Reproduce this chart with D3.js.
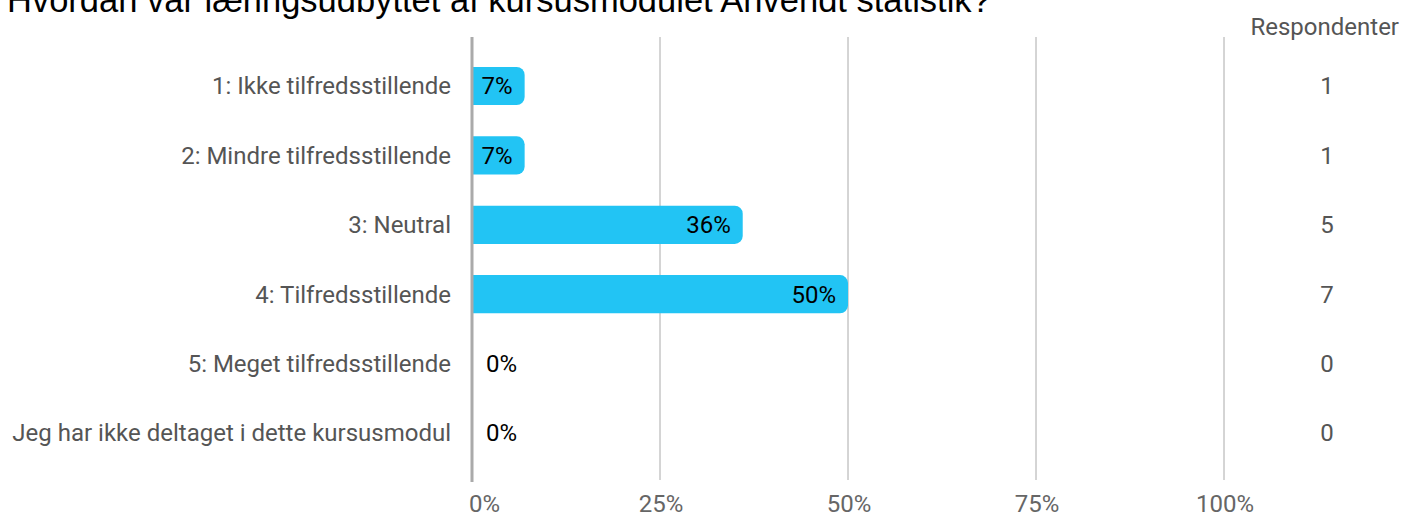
<!DOCTYPE html>
<html>
<head>
<meta charset="utf-8">
<script src="https://cdn.jsdelivr.net/npm/d3@7"></script>
<style>
  body { margin: 0; background: #fff; }
  svg { display: block; font-family: Roboto, sans-serif; }
</style>
</head>
<body>
<script>
var title = 'Hvordan var læringsudbyttet af kursusmodulet Anvendt statistik?'
var categories = [
  '1: Ikke tilfredsstillende',
  '2: Mindre tilfredsstillende',
  '3: Neutral',
  '4: Tilfredsstillende',
  '5: Meget tilfredsstillende',
  'Jeg har ikke deltaget i dette kursusmodul'
]
var respondents = [1, 1, 5, 7, 0, 0]
var percents = [7, 7, 36, 50, 0, 0]
var xTicks = [0, 25, 50, 75, 100]

var width = 1404, height = 515
var fs = '24px'

var x = d3.scaleLinear().domain([0, 100]).range([472, 1224])
var y = d3.scaleBand().domain(categories).range([51.3, 467.7])
  .paddingInner(0.45).paddingOuter(0.225)

var svg = d3.select('body').append('svg')
  .attr('width', width)
  .attr('height', height)

// title, cut off at the top like the source
svg.append('text')
  .attr('x', 7)
  .attr('y', 12)
  .style('font-family', '"Liberation Sans", Arial, sans-serif')
  .style('font-size', '34.5px')
  .attr('fill', '#000')
  .text(title)

// grid
svg.append('g').selectAll('line')
  .data(xTicks.slice(1))
  .enter().append('line')
  .attr('x1', d => x(d)).attr('x2', d => x(d))
  .attr('y1', 37).attr('y2', 480)
  .attr('stroke', '#aaa')
  .attr('stroke-width', 1)

// bars: square on the left, rounded on the right
var r = 8
svg.append('g').selectAll('path')
  .data(categories.filter((c, i) => percents[i] > 0))
  .enter().append('path')
  .attr('fill', '#22c4f4')
  .attr('d', function (c) {
    var i = categories.indexOf(c)
    var x0 = x(0), x1 = x(percents[i])
    var y0 = y(c), h = y.bandwidth()
    var p = d3.path()
    p.moveTo(x0, y0)
    p.lineTo(x1 - r, y0)
    p.arcTo(x1, y0, x1, y0 + r, r)
    p.lineTo(x1, y0 + h - r)
    p.arcTo(x1, y0 + h, x1 - r, y0 + h, r)
    p.lineTo(x0, y0 + h)
    p.closePath()
    return p.toString()
  })

// zero line
svg.append('line')
  .attr('x1', x(0)).attr('x2', x(0))
  .attr('y1', 37).attr('y2', 482)
  .attr('stroke', '#aaa')
  .attr('stroke-width', 3)

// percent labels
svg.append('g').selectAll('text')
  .data(categories)
  .enter().append('text')
  .attr('x', (c, i) => percents[i] > 0 ? x(percents[i]) - 12 : x(0) + 14)
  .attr('y', c => y(c) + y.bandwidth() / 2)
  .attr('dy', '0.35em')
  .attr('text-anchor', (c, i) => percents[i] > 0 ? 'end' : 'start')
  .style('font-size', fs)
  .attr('fill', '#000')
  .text((c, i) => percents[i] + '%')

// category labels
svg.append('g').selectAll('text')
  .data(categories)
  .enter().append('text')
  .attr('x', 451)
  .attr('y', c => y(c) + y.bandwidth() / 2)
  .attr('dy', '0.35em')
  .attr('text-anchor', 'end')
  .style('font-size', fs)
  .attr('fill', '#555')
  .text(c => c)

// respondent counts
svg.append('text')
  .attr('x', 1399)
  .attr('y', 27)
  .attr('dy', '0.35em')
  .attr('text-anchor', 'end')
  .style('font-size', fs)
  .attr('fill', '#555')
  .text('Respondenter')

svg.append('g').selectAll('text')
  .data(categories)
  .enter().append('text')
  .attr('x', 1327)
  .attr('y', c => y(c) + y.bandwidth() / 2)
  .attr('dy', '0.35em')
  .attr('text-anchor', 'middle')
  .style('font-size', fs)
  .attr('fill', '#555')
  .text((c, i) => respondents[i])

// x tick labels
svg.append('g').selectAll('text')
  .data(xTicks)
  .enter().append('text')
  .attr('x', d => d === 0 ? x(d) - 3 : x(d) + 1)
  .attr('y', 504)
  .attr('dy', '0.35em')
  .attr('text-anchor', d => d === 0 ? 'start' : 'middle')
  .style('font-size', fs)
  .attr('fill', '#666')
  .text(d => d + '%')
</script>
</body>
</html>
